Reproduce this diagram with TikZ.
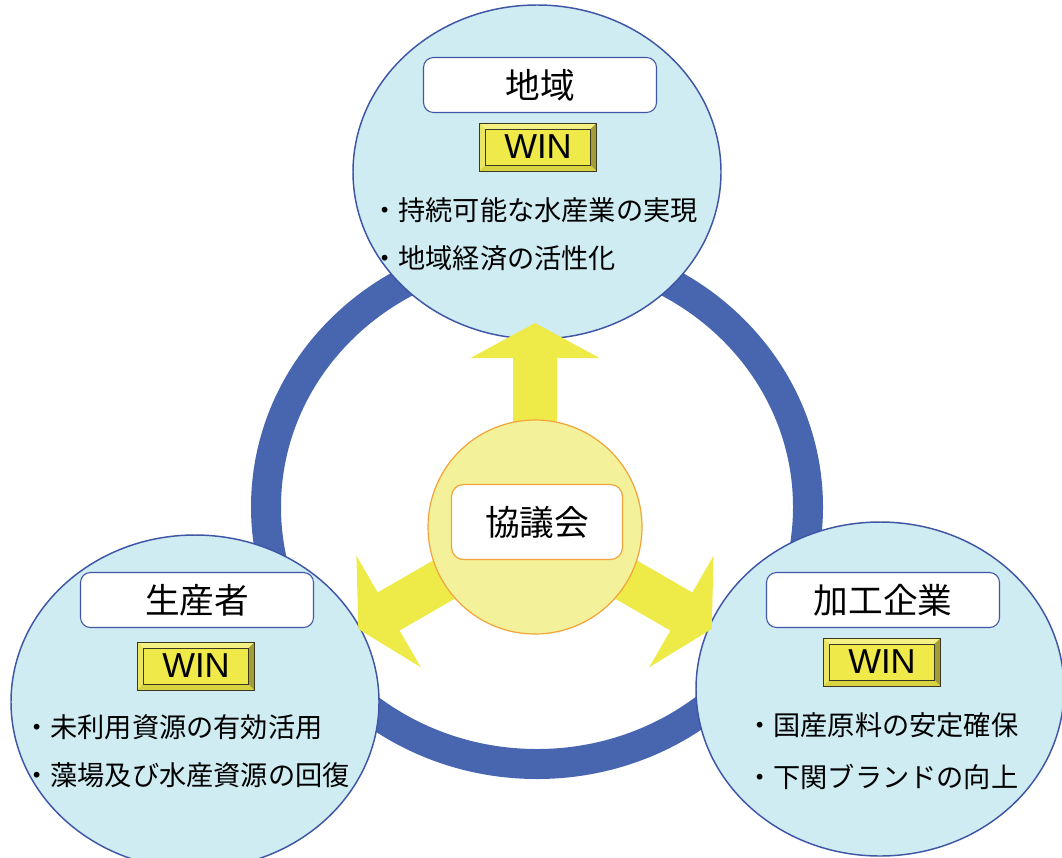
\documentclass[tikz,border=0pt]{standalone}
\usepackage{fontspec}
\setmainfont{Noto Sans CJK JP}
\newfontfamily\winfont{Liberation Sans}
\usetikzlibrary{shapes.geometric}

\definecolor{ringblue}{HTML}{4865AF}
\definecolor{discfill}{HTML}{CEECF1}
\definecolor{discedge}{HTML}{3F56A6}
\definecolor{arrowyellow}{HTML}{EEEA48}
\definecolor{hubfill}{HTML}{F3F19A}
\definecolor{hubedge}{HTML}{F2A33A}
\definecolor{winface}{HTML}{EFE94A}
\definecolor{winlight}{HTML}{F5F182}
\definecolor{winside}{HTML}{EAE562}
\definecolor{winlow}{HTML}{D8D340}
\definecolor{windark}{HTML}{A29D36}
\definecolor{winedge}{HTML}{3A3820}

\tikzset{
  disc/.style={ellipse, draw=discedge, line width=1.1pt, fill=discfill,
    minimum width=276pt, minimum height=250.5pt, inner sep=0pt},
  titlebox/.style={rectangle, rounded corners=7.5pt, draw=discedge, line width=0.8pt,
    fill=white, minimum width=174.75pt, minimum height=41.25pt, inner sep=0pt,
    font=\fontsize{26}{30}\selectfont},
  bullet/.style={anchor=west, inner sep=0pt, font=\fontsize{20.4}{24}\selectfont},
  winbox/.style={rectangle, draw=winedge, line width=0.7pt, fill=winface,
    minimum width=87.75pt, minimum height=36pt, inner sep=0pt,
    font=\winfont\fontsize{26}{30}\selectfont,
    path picture={
      % bevel faces
      \fill[winlight] (path picture bounding box.north west) -- (path picture bounding box.north east)
        -- ([shift={(-4.5pt,-4.5pt)}]path picture bounding box.north east)
        -- ([shift={(4.5pt,-4.5pt)}]path picture bounding box.north west) -- cycle;
      \fill[winside] (path picture bounding box.north west) -- (path picture bounding box.south west)
        -- ([shift={(4.5pt,4.5pt)}]path picture bounding box.south west)
        -- ([shift={(4.5pt,-4.5pt)}]path picture bounding box.north west) -- cycle;
      \fill[winlow] (path picture bounding box.south west) -- (path picture bounding box.south east)
        -- ([shift={(-4.5pt,4.5pt)}]path picture bounding box.south east)
        -- ([shift={(4.5pt,4.5pt)}]path picture bounding box.south west) -- cycle;
      \fill[windark] (path picture bounding box.north east) -- (path picture bounding box.south east)
        -- ([shift={(-4.5pt,4.5pt)}]path picture bounding box.south east)
        -- ([shift={(-4.5pt,-4.5pt)}]path picture bounding box.north east) -- cycle;
      \draw[winedge, line width=0.6pt] ([shift={(4.5pt,-4.5pt)}]path picture bounding box.north west)
        rectangle ([shift={(-4.5pt,4.5pt)}]path picture bounding box.south east);
    }},
  hub/.style={circle, draw=hubedge, line width=0.9pt, fill=hubfill,
    minimum size=160.5pt, inner sep=0pt},
  hubbox/.style={rectangle, rounded corners=9pt, draw=hubedge, line width=0.9pt,
    fill=white, minimum width=128.25pt, minimum height=56.25pt, inner sep=0pt,
    font=\fontsize{26}{30}\selectfont}
}

\begin{document}
\begin{tikzpicture}[x=0.75pt, y=-0.75pt]
  \useasboundingbox (0,0) rectangle (1062,857);

  % ring
  \draw[ringblue, line width=22.5pt] (537,507) ellipse [x radius=271, y radius=257];

  % the three partners
  \node[disc] (chiiki) at (537,172) {};
  \node[disc] (seisan) at (195,702) {};
  \node[disc] (kakou) at (880,689) {};

  % arrows out of the council
  \coordinate (hubc) at (535,527);
  \foreach \ang in {0,120,-120}
    \fill[arrowyellow, rotate around={\ang:(hubc)}]
      (513,527) -- (513,358) -- (470.5,358) -- (535,323) -- (599.5,358) -- (557,358) -- (557,527) -- cycle;

  % council
  \node[hub] (kyogi) at (hubc) {};
  \node[hubbox] (kyogi-t) at (537,522) {協議会};

  % top
  \node[titlebox] (chiiki-t) at (540,85) {地域};
  \node[winbox] (chiiki-w) at (538,147) {WIN};
  \node[bullet] (chiiki-a) at (371,210) {・持続可能な水産業の実現};
  \node[bullet] (chiiki-b) at (371,258) {・地域経済の活性化};

  % left
  \node[titlebox] (seisan-t) at (197,600) {生産者};
  \node[winbox] (seisan-w) at (196,666) {WIN};
  \node[bullet] (seisan-a) at (23,727) {・未利用資源の有効活用};
  \node[bullet] (seisan-b) at (23,775) {・藻場及び水産資源の回復};

  % right
  \node[titlebox] (kakou-t) at (883,600) {加工企業};
  \node[winbox] (kakou-w) at (882,662) {WIN};
  \node[bullet] (kakou-a) at (746,725) {・国産原料の安定確保};
  \node[bullet] (kakou-b) at (746,777) {・下関ブランドの向上};
\end{tikzpicture}
\end{document}
